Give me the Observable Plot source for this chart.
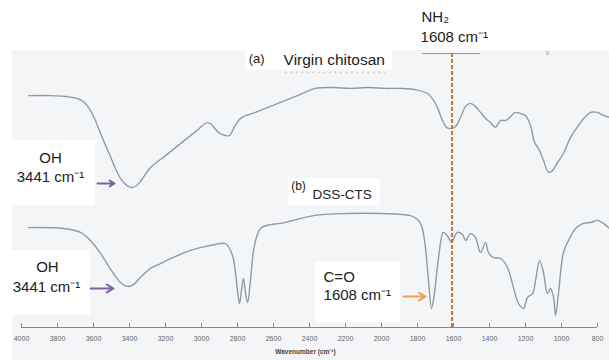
<!DOCTYPE html>
<html>
<head>
<meta charset="utf-8">
<script src="https://cdn.jsdelivr.net/npm/d3@7"></script>
<script src="https://cdn.jsdelivr.net/npm/@observablehq/plot@0.6"></script>
<style>
  html, body { margin: 0; padding: 0; background: #ffffff; }
  #chart svg { display: block; }
</style>
</head>
<body>
<div id="chart"></div>
<script>
// Wavenumbers (cm-1) and transmittance (arbitrary, offset)
const wnA = [3961,3839,3756,3689,3650,3617,3589,3561,3533,3506,3478,3450,3422,3394,3367,3339,3283,3200,3117,3033,2967,2939,2906,2867,2844,2822,2783,2700,2617,2533,2450,2367,2267,2172,2078,1978,1894,1811,1744,1711,1689,1661,1639,1617,1589,1561,1533,1506,1478,1450,1422,1394,1367,1339,1311,1283,1256,1228,1200,1172,1150,1128,1100,1072,1050,1022,989,950,906,867,839,800,767,733];
const tA  = [77.3,77.3,77.0,76.3,75.0,72.3,69.0,64.7,60.7,57.0,53.0,49.7,47.7,46.7,47.0,48.7,53.3,57.3,61.3,65.3,68.3,67.3,65.0,64.0,64.0,66.3,69.7,71.7,73.7,75.7,77.7,79.7,80.0,79.7,80.0,79.7,79.7,79.3,78.0,75.7,73.3,69.0,66.7,66.3,67.0,70.0,73.7,74.7,73.7,71.7,69.7,68.3,66.7,69.0,69.0,70.3,71.7,71.3,70.7,67.3,61.7,59.7,55.7,51.7,52.3,55.0,58.0,63.3,67.3,70.3,71.7,71.7,70.7,70.0];

const wnB = [3961,3767,3672,3617,3561,3522,3489,3450,3411,3378,3339,3283,3228,3144,3061,2978,2894,2867,2828,2800,2789,2778,2767,2756,2744,2728,2706,2672,2617,2561,2378,2189,2006,1839,1800,1778,1756,1739,1722,1706,1683,1656,1628,1611,1594,1578,1550,1533,1506,1478,1450,1422,1406,1378,1339,1300,1267,1239,1211,1189,1161,1144,1122,1100,1078,1061,1044,1033,1017,989,961,922,878,839,800,767,733];
const tB  = [33.3,33.0,31.7,29.0,24.7,21.0,18.0,15.0,13.7,14.3,16.7,19.7,21.3,23.7,25.7,27.0,28.0,28.0,24.0,12.3,8.0,12.3,16.3,11.7,8.3,15.7,27.3,33.0,34.3,34.7,37.3,38.0,38.0,37.3,36.0,34.0,26.7,15.7,6.3,11.3,23.3,31.7,30.0,28.3,30.3,31.7,31.0,29.0,31.3,30.0,25.0,28.3,25.0,23.3,23.0,20.0,13.3,8.0,6.3,10.0,11.3,15.7,22.3,18.3,11.3,13.0,10.0,4.0,11.3,25.0,29.0,33.0,34.7,35.0,35.7,34.7,33.0];

const xTicks = [4000,3800,3600,3400,3200,3000,2800,2600,2400,2200,2000,1800,1600,1400,1200,1000,800];

const seriesA = wnA.map((x, i) => ({x, y: tA[i]}));
const seriesB = wnB.map((x, i) => ({x, y: tB[i]}));

const curveColor = "#8c9cab";
const font = "'Liberation Sans', Arial, sans-serif";

const chart = Plot.plot({
  width: 609,
  height: 360,
  marginLeft: 21,
  marginRight: 12,
  marginTop: 27,
  marginBottom: 33,
  style: {background: "#ffffff", fontFamily: font, overflow: "visible"},
  x: {domain: [4000, 800], axis: null},
  y: {domain: [0, 100], axis: null},
  marks: [
    Plot.rect([0], {x1: 4050, x2: 733, y1: 92.3, y2: -11, fill: "#f4f5f7"}),
    Plot.rect([0], {x1: 2756, x2: 1939, y1: 93.3, y2: 85.7, fill: "#ffffff"}),
    Plot.rect([0], {x1: 2517, x2: 2006, y1: 49.7, y2: 40.7, fill: "#ffffff"}),
    Plot.rect([0], {x1: 4050, x2: 3589, y1: 62.3, y2: 40.7, fill: "#ffffff"}),
    Plot.rect([0], {x1: 4100, x2: 3617, y1: 25.7, y2: 4, fill: "#ffffff"}),
    Plot.rect([0], {x1: 2367, x2: 1894, y1: 21.7, y2: 1.7, fill: "#ffffff"}),
    Plot.ruleY([0], {x1: 4000, x2: 800, stroke: "#8a8a8a", strokeWidth: 1}),
    Plot.ruleX(xTicks, {x: d => d, y1: 0, y2: 1.3, stroke: "#8a8a8a"}),
    Plot.text(xTicks, {x: d => d, y: 0, dy: 11, text: d => String(d), fontSize: 7, fill: "#666"}),
    Plot.text(["Wavenumber (cm⁻¹)"], {frameAnchor: "bottom", dx: -4, dy: 26, text: d => d, fontSize: 6.5, fontWeight: "bold", fill: "#444"}),
    Plot.line(seriesA, {x: "x", y: "y", stroke: curveColor, strokeWidth: 1.4, curve: "catmull-rom"}),
    Plot.line(seriesB, {x: "x", y: "y", stroke: curveColor, strokeWidth: 1.4, curve: "catmull-rom"}),
    Plot.ruleY([91.3], {x1: 1772, x2: 1450, stroke: "#e0707a", strokeWidth: 1}),
    Plot.ruleX([1608], {y1: 91.3, y2: 0, stroke: "#c0763a", strokeWidth: 2, strokeDasharray: "4,2"}),
    Plot.text(["NH₂"], {x: 1778, y: 103.3, text: d => d, textAnchor: "start", fontSize: 15, fill: "#222"}),
    Plot.text(["1608 cm⁻¹"], {x: 1783, y: 96.7, text: d => d, textAnchor: "start", fontSize: 15, fill: "#222"}),
    Plot.text(["v"], {x: 1078, y: 91.7, text: d => d, fontSize: 7, fill: "#999"}),
    Plot.text(["(a)"], {x: 2694, y: 89.7, text: d => d, fontSize: 13, fill: "#222"}),
    Plot.text(["Virgin chitosan"], {x: 2544, y: 89, text: d => d, textAnchor: "start", fontSize: 15.5, fill: "#222"}),
    Plot.ruleY([85], {x1: 2533, x2: 1978, stroke: "#c4c8cc", strokeWidth: 1.5, strokeDasharray: "1.5,4"}),
    Plot.text(["(b)"], {x: 2461, y: 47, text: d => d, fontSize: 12, fill: "#222"}),
    Plot.text(["DSS-CTS"], {x: 2383, y: 44.3, text: d => d, textAnchor: "start", fontSize: 13.5, fill: "#222"}),
    Plot.text(["OH"], {x: 3839, y: 56.3, text: d => d, fontSize: 15, fill: "#222"}),
    Plot.text(["3441 cm⁻¹"], {x: 3839, y: 50, text: d => d, fontSize: 15, fill: "#222"}),
    Plot.arrow([0], {x1: 3578, x2: 3483, y1: 48, y2: 48, stroke: "#7a62a6", strokeWidth: 2, headLength: 6}),
    Plot.text(["OH"], {x: 3856, y: 20, text: d => d, fontSize: 15, fill: "#222"}),
    Plot.text(["3441 cm⁻¹"], {x: 3861, y: 13.3, text: d => d, fontSize: 15, fill: "#222"}),
    Plot.arrow([0], {x1: 3617, x2: 3489, y1: 13, y2: 13, stroke: "#7a62a6", strokeWidth: 2, headLength: 6}),
    Plot.text(["C=O"], {x: 2322, y: 16.7, text: d => d, textAnchor: "start", fontSize: 15, fill: "#222"}),
    Plot.text(["1608 cm⁻¹"], {x: 2322, y: 10.7, text: d => d, textAnchor: "start", fontSize: 15, fill: "#222"}),
    Plot.arrow([0], {x1: 1878, x2: 1756, y1: 10.3, y2: 10.3, stroke: "#f0a050", strokeWidth: 2, headLength: 6})
  ]
});
document.getElementById("chart").appendChild(chart);
</script>
</body>
</html>
